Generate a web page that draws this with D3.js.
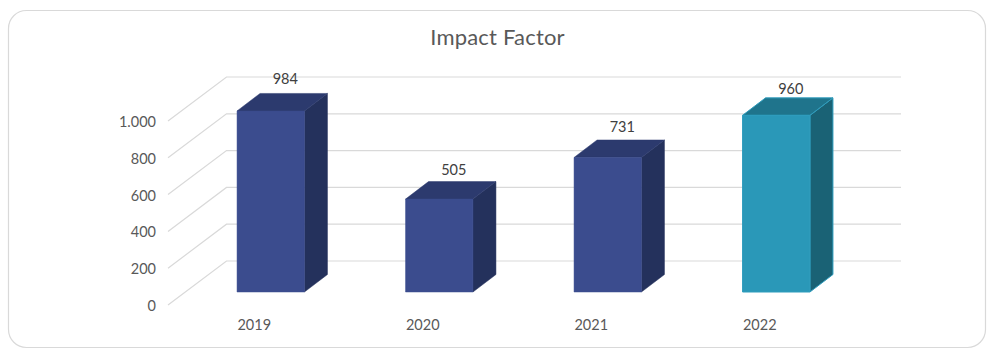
<!DOCTYPE html>
<html><head><meta charset="utf-8">
<script src="https://cdnjs.cloudflare.com/ajax/libs/d3/7.8.5/d3.min.js"></script>
<style>html,body{margin:0;padding:0;background:#fff}svg{display:block}text{font-family:Lato,"Open Sans",sans-serif}</style>
</head><body><svg id="c" width="997" height="358"></svg>
<script>
const years = ["2019","2020","2021","2022"];
const values = [984,505,731,960];
const ticks = [0,200,400,600,800,1000];
const tickLabels = ["0","200","400","600","800","1.000"];
const fronts = ["#3B4C8E","#3B4C8E","#3B4C8E","#2A98B8"];
const tops = ["#2C3A6E","#2C3A6E","#2C3A6E","#1F748C"];
const sides = ["#24315C","#24315C","#24315C","#1A6275"];
const strokes = [null,null,null,"#2F9DBD"];

const svg = d3.select("#c");
const x = d3.scaleBand().domain(years).range([186.5,860.5]).paddingInner(0.6).paddingOuter(0.3);
const y = d3.scaleLinear().domain([0,1000]).range([292,108]);
const dx = 23, dy = 17.5;
const gridBack = v => y(v) - 31;
const gridFront = v => y(v) + 13;
// the reference places its data labels at slightly different distances from the bar tops
const labelGaps = [9.5,7,8,3.5];

svg.append("rect").attr("x",8.5).attr("y",10.5).attr("width",977).attr("height",337).attr("rx",18)
  .attr("fill","#fff").attr("stroke","#D9D9D9").attr("stroke-width",1.2);

svg.append("text").attr("x",497.5).attr("y",44.5).attr("text-anchor","middle")
  .attr("font-size",22).attr("letter-spacing",0.2).attr("fill","#595959").text("Impact Factor");

const grid = svg.append("g").attr("fill","none").attr("stroke","#D9D9D9").attr("stroke-width",1.2);
ticks.forEach(t=>{
  grid.append("path").attr("d",d3.line()([[168,gridFront(t)],[226.5,gridBack(t)],[901,gridBack(t)]]));
});

svg.append("g").selectAll("text").data(ticks).join("text")
  .attr("x",156).attr("y",d=>gridFront(d)+6).attr("text-anchor","end")
  .attr("font-size",14.5).attr("fill","#595959").text((d,i)=>tickLabels[i]);

const bars = svg.append("g").selectAll("g").data(years).join("g");
const line = d3.line();
bars.each(function(yr,i){
  const g = d3.select(this), v = values[i];
  const x0 = x(yr), x1 = x0 + x.bandwidth(), yt = y(v), yb = y(0);
  const poly = (pts,f)=>g.append("path").attr("d",line(pts)+"Z").attr("fill",f)
    .attr("stroke",strokes[i]||f).attr("stroke-width",strokes[i]?1:0.5).attr("stroke-linejoin","round");
  poly([[x1,yt],[x1+dx,yt-dy],[x1+dx,yb-dy],[x1,yb]],sides[i]);
  poly([[x0,yt],[x0+dx,yt-dy],[x1+dx,yt-dy],[x1,yt]],tops[i]);
  poly([[x0,yt],[x1,yt],[x1,yb],[x0,yb]],fronts[i]);
  g.append("text").attr("x",(x0+x1)/2+14.5).attr("y",yt-dy-labelGaps[i]).attr("text-anchor","middle")
    .attr("font-size",14.5).attr("fill","#404040").text(v);
  g.append("text").attr("x",(x0+x1)/2-16.5).attr("y",329.5).attr("text-anchor","middle")
    .attr("font-size",14.5).attr("fill","#595959").text(yr);
});
</script></body></html>
